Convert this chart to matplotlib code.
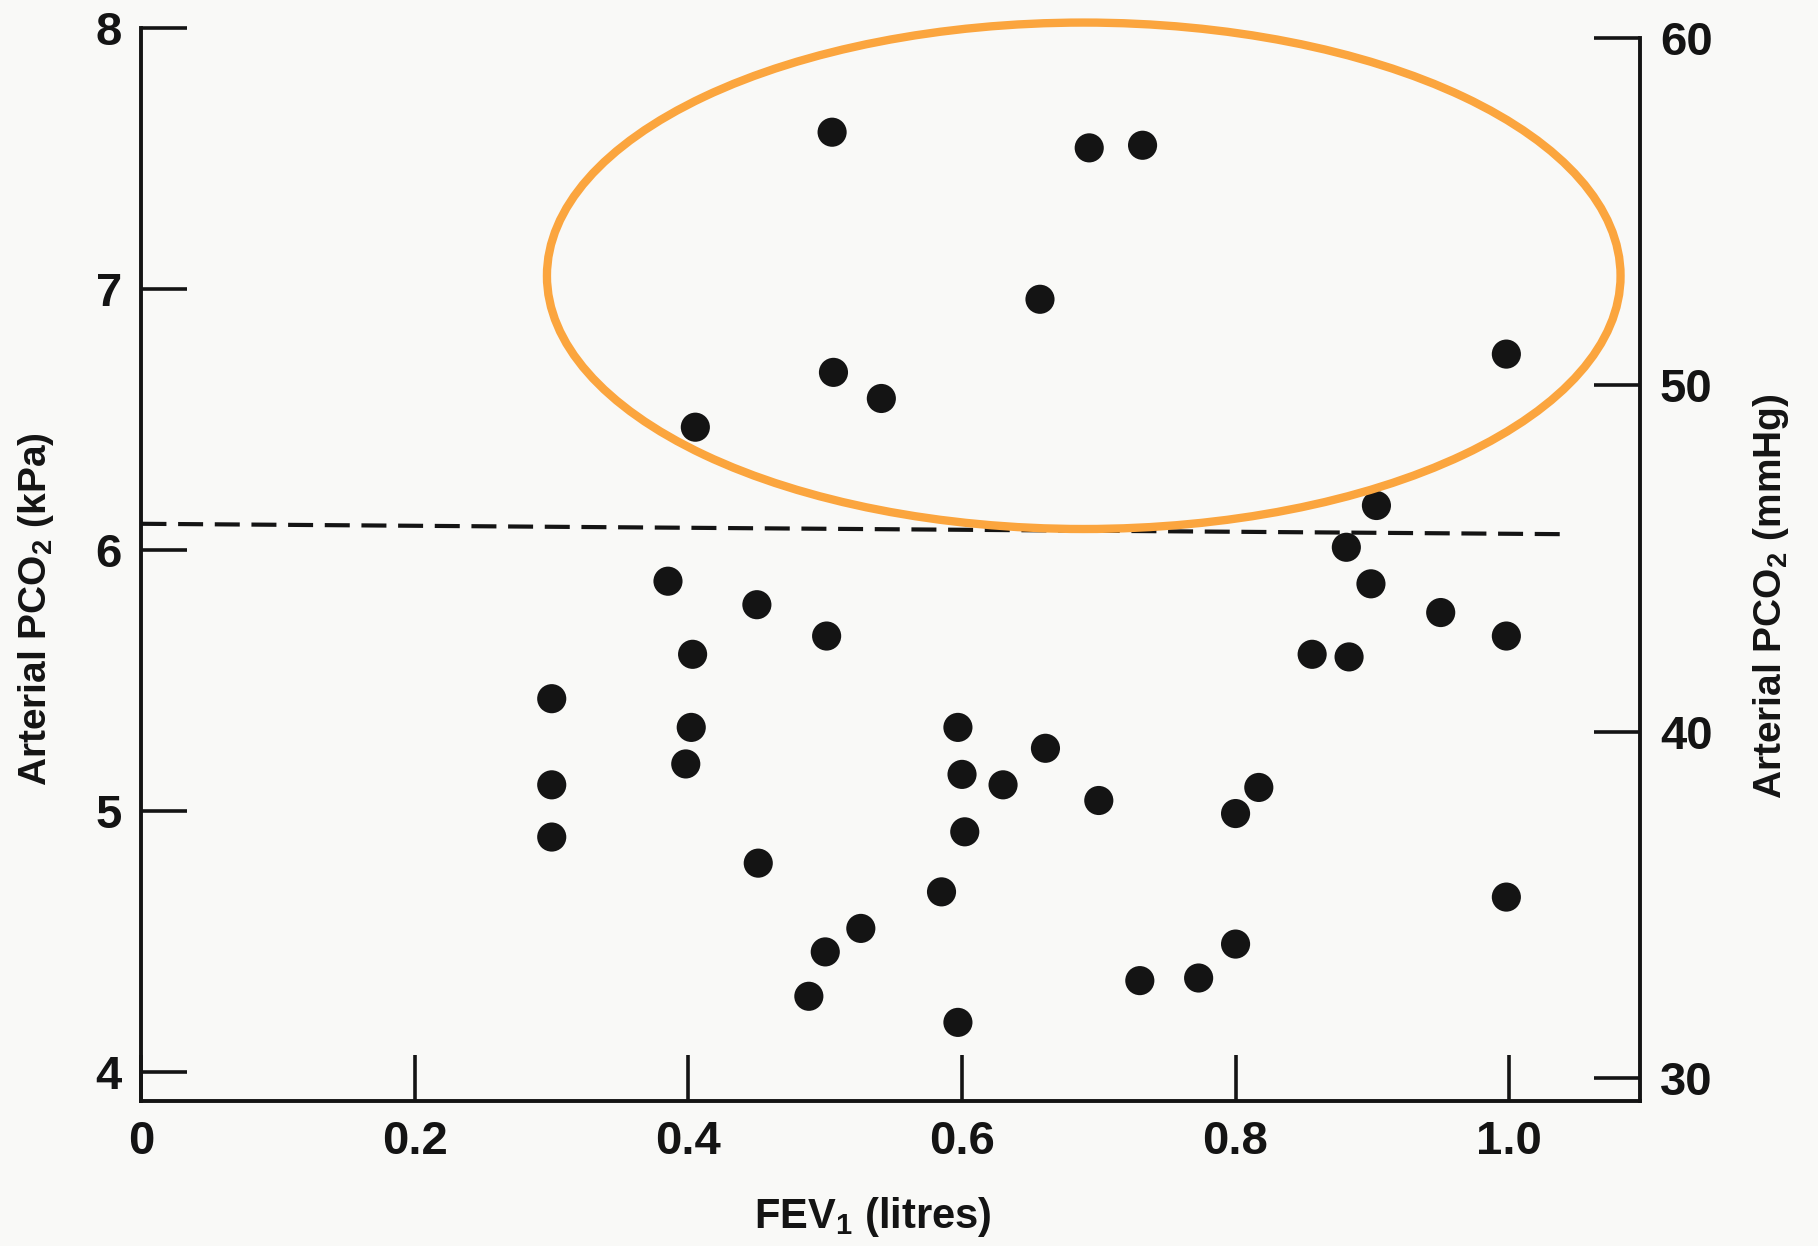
import matplotlib
matplotlib.use("Agg")
import matplotlib.pyplot as plt
from matplotlib.patches import Ellipse

# FEV1 (litres) vs arterial PCO2 (kPa)
fev1 = [
    0.505, 0.693, 0.732, 0.657, 0.506, 0.541, 0.405, 0.998,
    0.903, 0.881, 0.899, 0.950, 0.998, 0.856, 0.883,
    0.385, 0.450, 0.501, 0.403, 0.300, 0.402, 0.398, 0.300, 0.300, 0.451,
    0.597, 0.661, 0.600, 0.630, 0.700, 0.602, 0.817, 0.800,
    0.585, 0.526, 0.500, 0.488, 0.597, 0.730, 0.773, 0.800, 0.998,
]
pco2_kpa = [
    7.60, 7.54, 7.55, 6.96, 6.68, 6.58, 6.47, 6.75,
    6.17, 6.01, 5.87, 5.76, 5.67, 5.60, 5.59,
    5.88, 5.79, 5.67, 5.60, 5.43, 5.32, 5.18, 5.10, 4.90, 4.80,
    5.32, 5.24, 5.14, 5.10, 5.04, 4.92, 5.09, 4.99,
    4.69, 4.55, 4.46, 4.29, 4.19, 4.35, 4.36, 4.49, 4.67,
]

# dashed reference line (upper normal limit), slightly tilted in the scan
ref_x = [0.0, 1.045]
ref_y = [6.10, 6.06]

x_ticks = [0, 0.2, 0.4, 0.6, 0.8, 1.0]
x_labels = ["0", "0.2", "0.4", "0.6", "0.8", "1.0"]
kpa_ticks = [4, 5, 6, 7, 8]
mmhg_ticks = [30, 40, 50, 60]

INK = "#141414"
PAPER = "#f9f9f7"
ORANGE = "#fba53e"
FONT = "Liberation Sans"

fig = plt.figure(figsize=(18.18, 12.46), dpi=100, facecolor=PAPER)
ax = fig.add_axes([0.0778, 0.1164, 0.8245, 0.8613])
ax.set_facecolor(PAPER)

ax.scatter(fev1, pco2_kpa, s=440, marker="o", color=INK,
           edgecolors="none", zorder=3)
ax.plot(ref_x, ref_y, color=INK, linewidth=3.0, dashes=(6.0, 2.8), zorder=2)

ax.add_patch(Ellipse((0.689, 7.05), 0.785, 1.94, fill=False,
                     edgecolor=ORANGE, linewidth=6, zorder=4, clip_on=False))

ax.set_xlim(0, 1.096)
ax.set_ylim(3.889, 8.0)

for side in ("left", "bottom"):
    ax.spines[side].set_linewidth(2.8)
    ax.spines[side].set_color(INK)
ax.spines["top"].set_visible(False)
ax.spines["right"].set_visible(False)

ax.set_xticks(x_ticks)
ax.set_xticklabels(x_labels)
ax.set_yticks(kpa_ticks)
ax.tick_params(direction="in", length=33, width=2.6, color=INK,
               pad=14, labelsize=34, labelcolor=INK)
for lab in ax.get_xticklabels() + ax.get_yticklabels():
    lab.set_fontfamily(FONT)
    lab.set_fontweight("bold")

ax2 = ax.twinx()
ax2.set_ylim(29.35, 60.3)
ax2.set_yticks(mmhg_ticks)
for side in ("left", "bottom", "top"):
    ax2.spines[side].set_visible(False)
ax2.spines["right"].set_linewidth(2.8)
ax2.spines["right"].set_color(INK)
ax2.spines["right"].set_bounds(29.35, 60)
ax2.tick_params(direction="in", length=33, width=2.6, color=INK,
                pad=14, labelsize=34, labelcolor=INK)
for lab in ax2.get_yticklabels():
    lab.set_fontfamily(FONT)
    lab.set_fontweight("bold")

label_kw = dict(fontfamily=FONT, fontweight="bold", color=INK)
ax.set_xlabel(r"FEV$_\mathregular{1}$ (litres)", fontsize=30, **label_kw)
ax.set_ylabel(r"Arterial P$\mathregular{CO_2}$ (kPa)", fontsize=28, **label_kw)
ax2.set_ylabel(r"Arterial P$\mathregular{CO_2}$ (mmHg)", fontsize=28,
               rotation=90, **label_kw)
ax.xaxis.set_label_coords(0.488, -0.088)
ax.yaxis.set_label_coords(-0.057, 0.458)
ax2.yaxis.set_label_coords(1.074, 0.47)

fig.savefig("out.png", dpi=100, facecolor=PAPER)
